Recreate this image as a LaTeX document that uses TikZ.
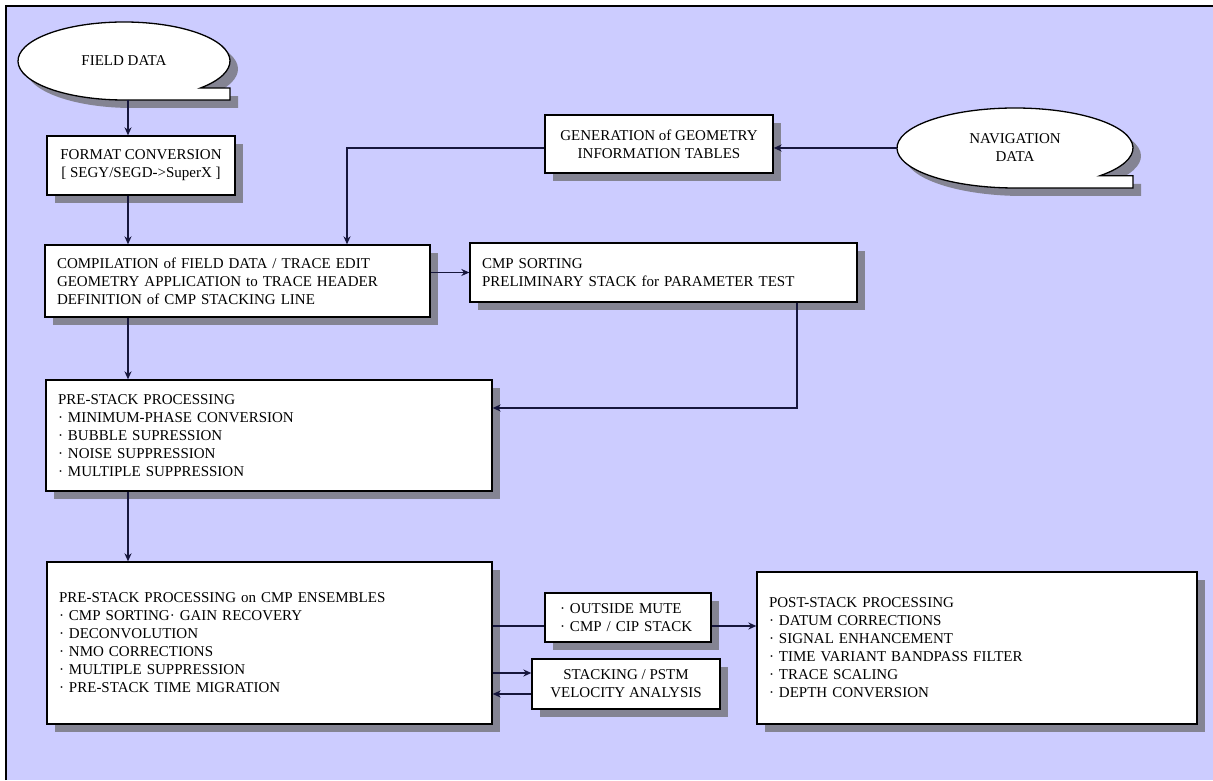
\documentclass[tikz,border=0pt]{standalone}
\usepackage{fontspec}
\setmainfont{Liberation Serif}
\usetikzlibrary{arrows.meta,shadows,shapes.geometric}
\definecolor{panel}{RGB}{204,204,255}
\definecolor{wire}{RGB}{22,22,60}

\begin{document}
\begin{tikzpicture}[x=1pt, y=1pt,
    font=\fontsize{15}{18}\selectfont,
    shadowed/.style={drop shadow={shadow xshift=8pt, shadow yshift=-8pt, fill=black!60, opacity=.7}},
    box/.style={draw=black, line width=1.3pt, fill=white, shadowed, align=center, inner sep=0pt},
    listbox/.style={box, align=left, inner xsep=12pt},
    store/.style={draw=black, line width=1.3pt, fill=white, shadowed},
    storetext/.style={ellipse, inner sep=0pt, outer sep=0pt, align=center},
    link/.style={draw=wire, line width=1.4pt},
    flow/.style={link, -{Stealth[length=8pt, width=7pt]}}]
    \useasboundingbox (0,0) rectangle (1213,780);
    \fill[panel] (6,0) rectangle (1213,774);
    \draw[line width=2pt] (6,0) -- (6,774) -- (1213,774);

    \coordinate (fd) at (124,719);
    \coordinate (nd) at (1015,632);
    \coordinate (spine) at (128,0);
    \coordinate (geodrop) at (347,0);
    \coordinate (sortback) at (797,372);
    \coordinate (muteline) at (0,154);

    \draw[store] (fd) ++(-44:106 and 39) coordinate (fd-t)
        arc[start angle=-44, end angle=270, x radius=106, y radius=39]
        -- ++(106,0) |- (fd-t) -- cycle;
    \node[storetext, minimum width=212pt, minimum height=78pt] (field) at (fd) {FIELD DATA};

    \draw[store] (nd) ++(-44:118 and 40) coordinate (nd-t)
        arc[start angle=-44, end angle=270, x radius=118, y radius=40]
        -- ++(118,0) |- (nd-t) -- cycle;
    \node[storetext, minimum width=236pt, minimum height=80pt] (nav) at (nd) {NAVIGATION\\DATA};

    \node[box, minimum width=188pt, minimum height=59pt] (fmt) at (141,614.5)
        {FORMAT CONVERSION\\{}[ SEGY/SEGD-{}>SuperX ]};
    \node[box, minimum width=228pt, minimum height=58pt] (geo) at (659,636)
        {GENERATION of GEOMETRY\\INFORMATION TABLES};
    \node[listbox, text width=361pt, minimum height=72pt] (comp) at (237.5,499)
        {COMPILATION of FIELD DATA / TRACE EDIT\\
         GEOMETRY APPLICATION to TRACE HEADER\\
         DEFINITION of CMP STACKING LINE};
    \node[listbox, text width=363pt, minimum height=59pt] (sort) at (663.5,507.5)
        {CMP SORTING\\PRELIMINARY STACK for PARAMETER TEST};
    \node[listbox, text width=422pt, minimum height=111pt] (pre) at (269,344.5)
        {PRE-STACK PROCESSING\\
         · MINIMUM-PHASE CONVERSION\\
         · BUBBLE SUPRESSION\\
         · NOISE SUPPRESSION\\
         · MULTIPLE SUPPRESSION};
    \node[listbox, text width=421pt, minimum height=162pt] (cmp) at (269.5,137)
        {PRE-STACK PROCESSING on CMP ENSEMBLES\\
         · CMP SORTING· GAIN RECOVERY\\
         · DECONVOLUTION\\
         · NMO CORRECTIONS\\
         · MULTIPLE SUPPRESSION\\
         · PRE-STACK TIME MIGRATION};
    \node[listbox, inner xsep=15pt, text width=136pt, minimum height=49pt] (mute) at (628,162.5)
        {· OUTSIDE MUTE\\· CMP / CIP STACK};
    \node[box, minimum width=188pt, minimum height=50pt] (vel) at (626,96)
        {STACKING / PSTM\\VELOCITY ANALYSIS};
    \node[listbox, text width=416pt, minimum height=152pt] (post) at (977,132)
        {POST-STACK PROCESSING\\
         · DATUM CORRECTIONS\\
         · SIGNAL ENHANCEMENT\\
         · TIME VARIANT BANDPASS FILTER\\
         · TRACE SCALING\\
         · DEPTH CONVERSION};

    \draw[flow] (field.south -| spine) -- (fmt.north -| spine);
    \draw[flow] (fmt.south -| spine) -- (comp.north -| spine);
    \draw[flow] (nav.west) -- (nav.west -| geo.east);
    \draw[flow] (geo.west |- nav.west) -| (comp.north -| geodrop);
    \draw[flow] (comp.east |- sort.west) -- (sort.west);
    \draw[flow] (sort.south -| sortback) |- (pre.east |- sortback);
    \draw[flow] (comp.south -| spine) -- (pre.north -| spine);
    \draw[flow] (pre.south -| spine) -- (cmp.north -| spine);
    \draw[link] (cmp.east |- muteline) -- (mute.west |- muteline);
    \draw[flow] (mute.east |- muteline) -- (post.west |- muteline);
    \draw[flow] ([yshift=11pt]vel.west -| cmp.east) -- ([yshift=11pt]vel.west);
    \draw[flow] ([yshift=-10pt]vel.west) -- ([yshift=-10pt]vel.west -| cmp.east);
\end{tikzpicture}
\end{document}
